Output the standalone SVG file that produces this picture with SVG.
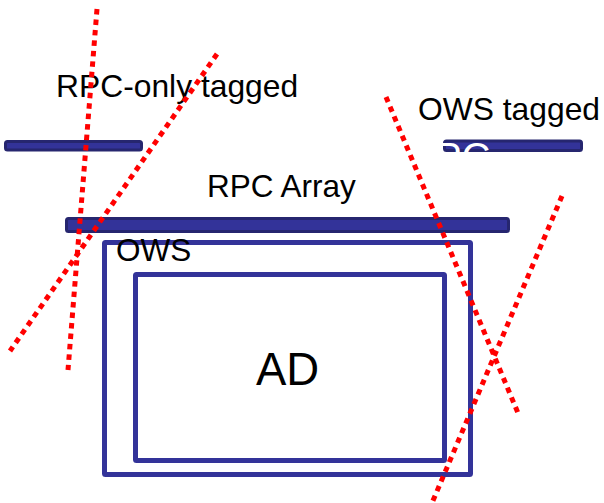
<svg xmlns="http://www.w3.org/2000/svg" width="604" height="503" viewBox="0 0 604 503">
<defs>
<style>
.bar{fill:#333399;stroke:#26266f;stroke-width:3}
.box{fill:none;stroke:#333399;stroke-width:5}
.lbl{font-family:"Liberation Sans",Arial,sans-serif;fill:#000}
.dot{stroke:#ff0000;stroke-width:5;stroke-dasharray:5.5 5;fill:none}
</style>
</defs>
<rect width="604" height="503" fill="#fff"/>
<g id="rpc-only-bar">
<rect class="bar" x="5.5" y="141.5" width="136" height="8.5" rx="2"/>
</g>
<g id="ows-tagged-bar">
<rect class="bar" x="444.5" y="141" width="137" height="9.5" rx="2"/>
<text class="lbl" x="406" y="171" font-size="40" style="fill:#fff">RPC</text>
</g>
<g id="rpc-array">
<rect class="bar" x="66.5" y="218.5" width="442" height="13" rx="2"/>
<text class="lbl" x="207" y="197" font-size="31.5">RPC Array</text>
</g>
<g id="ows">
<rect class="box" x="104.5" y="242.5" width="366" height="232" rx="1"/>
<text class="lbl" x="116" y="261" font-size="31.5">OWS</text>
</g>
<g id="ad">
<rect class="box" x="135.5" y="274.5" width="309" height="186" rx="1"/>
<text class="lbl" x="256" y="385" font-size="45.5">AD</text>
</g>
<g id="labels">
<text class="lbl" x="56" y="97" font-size="31.8">RPC-only tagged</text>
<text class="lbl" x="418" y="120" font-size="31.8">OWS tagged</text>
</g>
<g id="dotted-lines">
<line class="dot" x1="97" y1="9" x2="68" y2="370"/>
<line class="dot" x1="217" y1="54" x2="10" y2="351"/>
<line class="dot" x1="386" y1="97" x2="518" y2="413"/>
<line class="dot" x1="562" y1="196" x2="432" y2="503"/>
</g>
</svg>
